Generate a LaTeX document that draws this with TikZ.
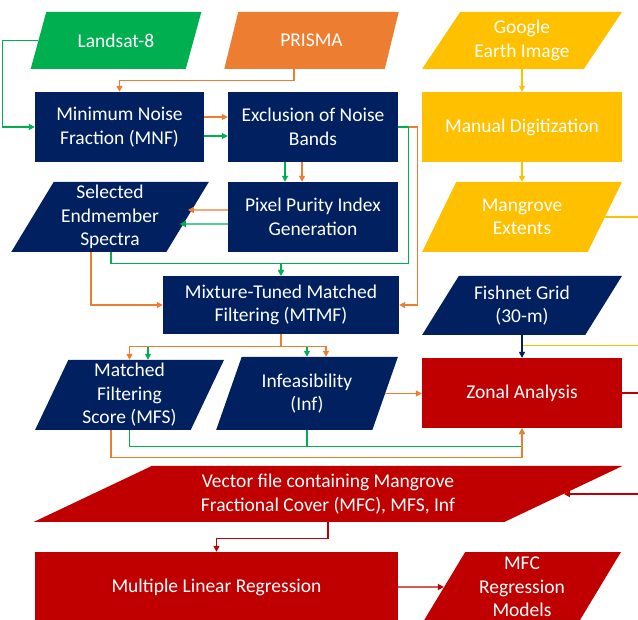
\documentclass[tikz,border=0pt]{standalone}
\usepackage{fontspec}
\setmainfont{Carlito}
\usetikzlibrary{shapes.geometric,arrows.meta,calc}

\definecolor{dnavy}{HTML}{002060}
\definecolor{dgreen}{HTML}{00B050}
\definecolor{dorange}{HTML}{ED7D31}
\definecolor{dyellow}{HTML}{FFC000}
\definecolor{dred}{HTML}{C00000}

\begin{document}
\begin{tikzpicture}[
    x=1pt, y=-1pt,
    font=\fontsize{19.5}{23.5}\selectfont,
    box/.style={rectangle, fill=dnavy, text=white, align=center, inner sep=0pt},
    data/.style={trapezium, trapezium left angle=#1,
        trapezium right angle=\the\numexpr180-#1\relax,
        trapezium stretches=true, fill=dnavy, text=white, align=center, inner sep=0pt},
    lk/.style={line width=1.3pt, -{Triangle[length=6pt,width=6pt]}}
]

\useasboundingbox (0,0) rectangle (638,620);
\clip (0,0) rectangle (638,620);

% Images d'entree
\node[data=58, fill=dgreen, minimum width=172pt, minimum height=57pt] (landsat) at (116,40.5) {Landsat-8};
\node[data=65, fill=dorange, minimum width=175pt, minimum height=57pt] (prisma) at (311.5,40.5) {PRISMA};
\node[data=54, fill=dyellow, minimum width=200pt, minimum height=57pt] (google) at (522,40.5) {Google\\Earth Image};

% Pretraitement
\node[box, minimum width=169pt, minimum height=70pt] (mnf) at (119.5,127) {Minimum Noise\\Fraction (MNF)};
\node[box, minimum width=170pt, minimum height=70pt] (excl) at (313,127) {Exclusion of Noise\\Bands};
\node[box, fill=dyellow, minimum width=200pt, minimum height=70pt] (manual) at (522,127) {Manual Digitization};

\node[data=60, minimum width=198pt, minimum height=70pt] (endm) at (110,217) {Selected\\Endmember\\Spectra};
\node[box, minimum width=170pt, minimum height=70pt] (ppi) at (313,217) {Pixel Purity Index\\Generation};
\node[data=60, fill=dyellow, minimum width=200pt, minimum height=70pt] (extents) at (522,217) {Mangrove\\Extents};

% Demelange
\node[box, minimum width=236pt, minimum height=58pt] (mtmf) at (281,305) {Mixture-Tuned Matched\\Filtering (MTMF)};
\node[data=55, minimum width=200pt, minimum height=59pt] (fishnet) at (522,305.5) {Fishnet Grid\\(30-m)};

\node[data=68, minimum width=189pt, minimum height=70pt] (mfs) at (129.5,395) {Matched\\Filtering\\Score (MFS)};
\node[data=66, minimum width=182pt, minimum height=73pt] (inf) at (307,393.5) {Infeasibility\\(Inf)};
\node[box, fill=dred, minimum width=200pt, minimum height=70pt] (zonal) at (522,393) {Zonal Analysis};

% Regression
\node[data=25, fill=dred, minimum width=590pt, minimum height=56pt] (vector) at (328,494) {Vector file containing Mangrove\\Fractional Cover (MFC), MFS, Inf};
\node[box, fill=dred, minimum width=363pt, minimum height=70pt] (mlr) at (216.5,587) {Multiple Linear Regression};
\node[data=62, fill=dred, minimum width=198pt, minimum height=70pt] (mfc) at (522,587) {MFC\\Regression\\Models};

% Fleches du haut
\draw[lk, dgreen] (landsat.west) -- ++(-35.5,0) |- (mnf.west);
\draw[lk, dorange] ($(prisma.south)+(-17.5,0)$) -- ++(0,11) -| (mnf.north);
\draw[lk, dorange] ($(mnf.east)+(0,-10)$) -- ($(excl.west)+(0,-10)$);
\draw[lk, dgreen] ($(mnf.east)+(0,9)$) -- ($(excl.west)+(0,9)$);
\draw[lk, dgreen] ($(excl.south)+(-28,0)$) -- ($(ppi.north)+(-28,0)$);
\draw[lk, dorange] ($(excl.south)+(-11,0)$) -- ($(ppi.north)+(-11,0)$);
\draw[lk, dyellow] (google.south -| manual.north) -- (manual.north);
\draw[lk, dyellow] (manual.south) -- (manual.south |- extents.north);

% Vers MTMF
\draw[lk, dorange] (excl.east) -- ++(19,0) |- (mtmf.east);
\draw[lk, dgreen] (excl.east) -- ++(10,0) |- ($(mtmf.north)+(0,-12)$) -- (mtmf.north);
\draw[lk, dorange] ($(ppi.west)+(0,-7)$) -- ($(endm.east)+(0,-7)$);
\draw[lk, dgreen] ($(ppi.west)+(0,7)$) -- ($(endm.east)+(-8,7)$);
\draw[lk, dorange] ($(endm.south)+(-19,0)$) |- (mtmf.west);
\draw[lk, dgreen] ($(endm.south)+(1,0)$) |- ($(mtmf.north)+(0,-12)$) -- (mtmf.north);

% Sorties MTMF
\draw[lk, dgreen] (mtmf.south) -- ++(0,12) -| ($(mfs.north)+(18.5,0)$);
\draw[lk, dgreen] (mtmf.south) -- ++(0,12) -| (inf.north);
\draw[lk, dorange] (mtmf.south) -- ++(0,12) -| (mfs.north);
\draw[lk, dorange] (mtmf.south) -- ++(0,12) -| ($(inf.north)+(19,0)$);

% Vers Zonal Analysis
\draw[lk, dorange] (inf.east) -- (inf.east -| zonal.west);
\draw[lk, dyellow] (extents.east) -- ++(40,0) |- ($(zonal.north)+(0,-12)$) -- (zonal.north);
\draw[lk, dnavy] (fishnet.south -| zonal.north) -- (zonal.north);
\draw[lk, dgreen] (mfs.south) -- ++(0,16) -| (zonal.south);
\draw[dgreen, line width=1.3pt] (inf.south) -- ++(0,16);
\draw[lk, dorange] ($(mfs.south)+(-18.5,0)$) -- ++(0,27) -| (zonal.south);

% Fleches du bas
\draw[lk, dred] (zonal.east) -- ++(20,0) |- (vector.east);
\draw[lk, dred] (vector.south) -- ++(0,16) -| (mlr.north);
\draw[lk, dred] (mlr.east) -- (mfc.west);

\end{tikzpicture}
\end{document}
